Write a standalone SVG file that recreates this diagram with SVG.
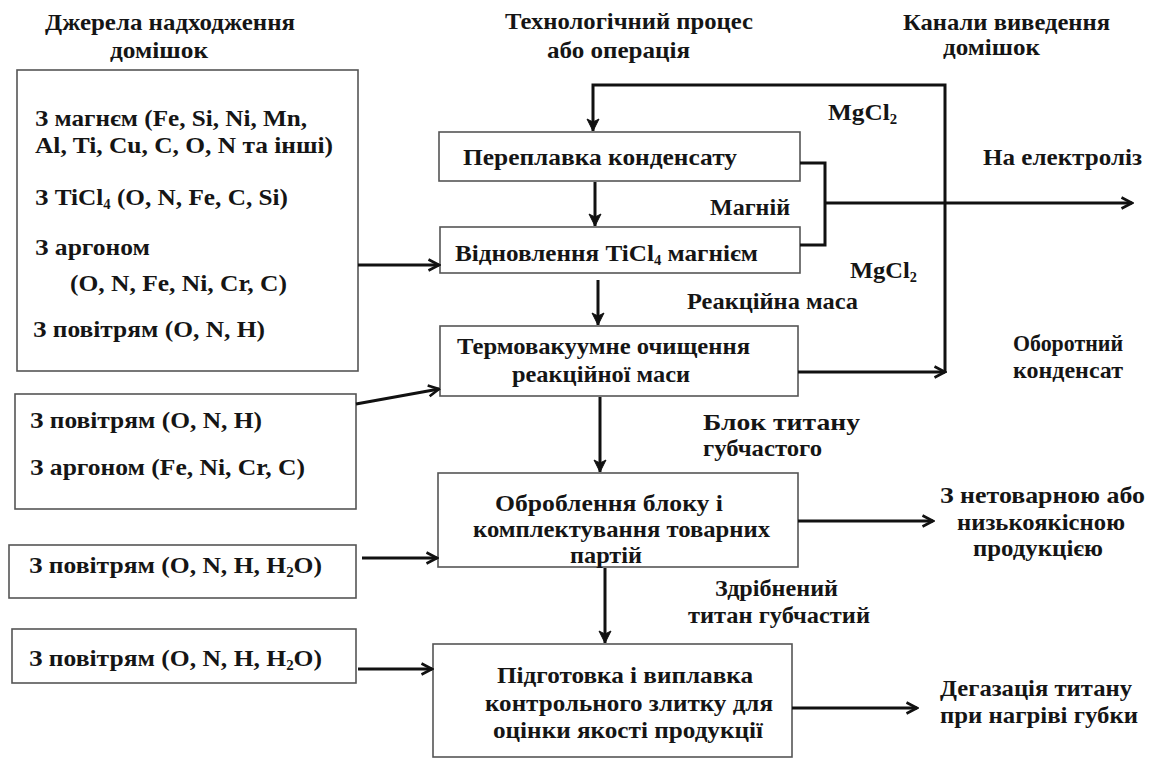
<svg xmlns="http://www.w3.org/2000/svg" width="1153" height="760" viewBox="0 0 1153 760">
<defs>
<style>
text{font-family:'Liberation Serif','Times New Roman','DejaVu Serif',serif;font-weight:700;font-size:24px;fill:#151515}
.box{fill:#fff;stroke:#555;stroke-width:1.6}
.ln{fill:none;stroke:#111;stroke-width:3}
.sub{font-size:14px}
</style>
<marker id="ah" viewBox="0 0 14 14" refX="12.5" refY="7" markerWidth="14" markerHeight="14" markerUnits="userSpaceOnUse" orient="auto">
<path d="M2,1.5 L12.5,7 L2,12.5" fill="none" stroke="#111" stroke-width="2.6"/>
</marker>
<marker id="ahf" viewBox="0 0 14 14" refX="13" refY="7" markerWidth="14" markerHeight="14" markerUnits="userSpaceOnUse" orient="auto">
<path d="M1,1 L13,7 L1,13 L4,7 z" fill="#111" stroke="#111" stroke-width="1"/>
</marker>
</defs>
<rect width="1153" height="760" fill="#fff"/>

<g id="headings">
<text x="45" y="30" textLength="250" lengthAdjust="spacingAndGlyphs">Джерела надходження</text>
<text x="110" y="58" textLength="98" lengthAdjust="spacingAndGlyphs">домішок</text>
<text x="505" y="29" textLength="248" lengthAdjust="spacingAndGlyphs">Технологічний процес</text>
<text x="547" y="58" textLength="143" lengthAdjust="spacingAndGlyphs">або операція</text>
<text x="903" y="30" textLength="207" lengthAdjust="spacingAndGlyphs">Канали виведення</text>
<text x="943" y="55" textLength="97" lengthAdjust="spacingAndGlyphs">домішок</text>
</g>

<g id="src1">
<rect class="box" x="17" y="70" width="341" height="301"/>
<text x="35" y="126" textLength="272" lengthAdjust="spacingAndGlyphs">З магнєм (Fe, Si, Ni, Mn,</text>
<text x="35" y="153" textLength="298" lengthAdjust="spacingAndGlyphs">Al, Ti, Cu, C, O, N та інші)</text>
<text x="35" y="205" textLength="253" lengthAdjust="spacingAndGlyphs">З TiCl<tspan class="sub" dy="4">4</tspan><tspan dy="-4"> (O, N, Fe, C, Si)</tspan></text>
<text x="35" y="255" textLength="115" lengthAdjust="spacingAndGlyphs">З аргоном</text>
<text x="70" y="291" textLength="217" lengthAdjust="spacingAndGlyphs">(O, N, Fe, Ni, Cr, C)</text>
<text x="33" y="337" textLength="232" lengthAdjust="spacingAndGlyphs">З повітрям (O, N, H)</text>
</g>

<g id="src2">
<rect class="box" x="15" y="394" width="341" height="115"/>
<text x="30" y="428" textLength="232" lengthAdjust="spacingAndGlyphs">З повітрям (O, N, H)</text>
<text x="30" y="475" textLength="275" lengthAdjust="spacingAndGlyphs">З аргоном (Fe, Ni, Cr, C)</text>
</g>

<g id="src3">
<rect class="box" x="9" y="545" width="347" height="53"/>
<text x="29" y="573" textLength="293" lengthAdjust="spacingAndGlyphs">З повітрям (O, N, H, H<tspan class="sub" dy="4">2</tspan><tspan dy="-4">O)</tspan></text>
</g>

<g id="src4">
<rect class="box" x="12" y="629" width="344" height="54"/>
<text x="29" y="666" textLength="293" lengthAdjust="spacingAndGlyphs">З повітрям (O, N, H, H<tspan class="sub" dy="4">2</tspan><tspan dy="-4">O)</tspan></text>
</g>

<g id="p1">
<rect class="box" x="439" y="132" width="361" height="49"/>
<text x="463" y="165" textLength="274" lengthAdjust="spacingAndGlyphs">Переплавка  конденсату</text>
</g>

<g id="p2">
<rect class="box" x="440" y="227" width="360" height="46"/>
<text x="455" y="261" textLength="303" lengthAdjust="spacingAndGlyphs">Відновлення TiCl<tspan class="sub" dy="4">4</tspan><tspan dy="-4">  магнієм</tspan></text>
</g>

<g id="p3">
<rect class="box" x="440" y="326" width="358" height="70"/>
<text x="457" y="354" textLength="293" lengthAdjust="spacingAndGlyphs">Термовакуумне очищення</text>
<text x="512" y="382" textLength="178" lengthAdjust="spacingAndGlyphs">реакційної маси</text>
</g>

<g id="p4">
<rect class="box" x="438" y="473" width="360" height="94"/>
<text x="495" y="511" textLength="228" lengthAdjust="spacingAndGlyphs">Оброблення блоку і</text>
<text x="473" y="537" textLength="297" lengthAdjust="spacingAndGlyphs">комплектування товарних</text>
<text x="570" y="563" textLength="72" lengthAdjust="spacingAndGlyphs">партій</text>
</g>

<g id="p5">
<rect class="box" x="433" y="644" width="359" height="113"/>
<text x="497" y="683" textLength="256" lengthAdjust="spacingAndGlyphs">Підготовка і виплавка</text>
<text x="485" y="711" textLength="288" lengthAdjust="spacingAndGlyphs">контрольного злитку для</text>
<text x="493" y="738" textLength="270" lengthAdjust="spacingAndGlyphs">оцінки якості продукції</text>
</g>

<g id="labels">
<text x="828" y="120" textLength="69" lengthAdjust="spacingAndGlyphs">MgCl<tspan class="sub" dy="4">2</tspan></text>
<text x="850" y="278" textLength="67" lengthAdjust="spacingAndGlyphs">MgCl<tspan class="sub" dy="4">2</tspan></text>
<text x="710" y="215" textLength="80" lengthAdjust="spacingAndGlyphs">Магній</text>
<text x="687" y="309" textLength="171" lengthAdjust="spacingAndGlyphs">Реакційна маса</text>
<text x="983" y="165" textLength="159" lengthAdjust="spacingAndGlyphs">На електроліз</text>
<text x="1013" y="351" textLength="110" lengthAdjust="spacingAndGlyphs">Оборотний</text>
<text x="1013" y="378" textLength="110" lengthAdjust="spacingAndGlyphs">конденсат</text>
<text x="703" y="430" textLength="157" lengthAdjust="spacingAndGlyphs">Блок титану</text>
<text x="703" y="456" textLength="119" lengthAdjust="spacingAndGlyphs">губчастого</text>
<text x="715" y="596" textLength="123" lengthAdjust="spacingAndGlyphs">Здрібнений</text>
<text x="688" y="623" textLength="182" lengthAdjust="spacingAndGlyphs">титан губчастий</text>
<text x="940" y="503" textLength="205" lengthAdjust="spacingAndGlyphs">З нетоварною або</text>
<text x="957" y="530" textLength="168" lengthAdjust="spacingAndGlyphs">низькоякісною</text>
<text x="973" y="556" textLength="130" lengthAdjust="spacingAndGlyphs">продукцією</text>
<text x="940" y="696" textLength="192" lengthAdjust="spacingAndGlyphs">Дегазація титану</text>
<text x="940" y="723" textLength="198" lengthAdjust="spacingAndGlyphs">при нагріві губки</text>
</g>

<g id="connectors">
<path class="ln" d="M945,373 V85 H593 V131" marker-end="url(#ahf)"/>
<path class="ln" d="M798,372 H945" marker-end="url(#ah)"/>
<path class="ln" d="M595,182 V226" marker-end="url(#ahf)"/>
<path class="ln" d="M800,163 H825 V245 H800"/>
<path class="ln" d="M825,203 H1132" marker-end="url(#ah)"/>
<path class="ln" d="M598,280 V325" marker-end="url(#ahf)"/>
<path class="ln" d="M600,397 V472" marker-end="url(#ahf)"/>
<path class="ln" d="M605,568 V643" marker-end="url(#ahf)"/>
<path class="ln" d="M358,265 H439" marker-end="url(#ah)"/>
<path class="ln" d="M356,404 L439,389" marker-end="url(#ah)"/>
<path class="ln" d="M362,558 H437" marker-end="url(#ah)"/>
<path class="ln" d="M358,669 H432" marker-end="url(#ah)"/>
<path class="ln" d="M798,521 H933" marker-end="url(#ah)"/>
<path class="ln" d="M792,708 H917" marker-end="url(#ah)"/>
</g>
</svg>
